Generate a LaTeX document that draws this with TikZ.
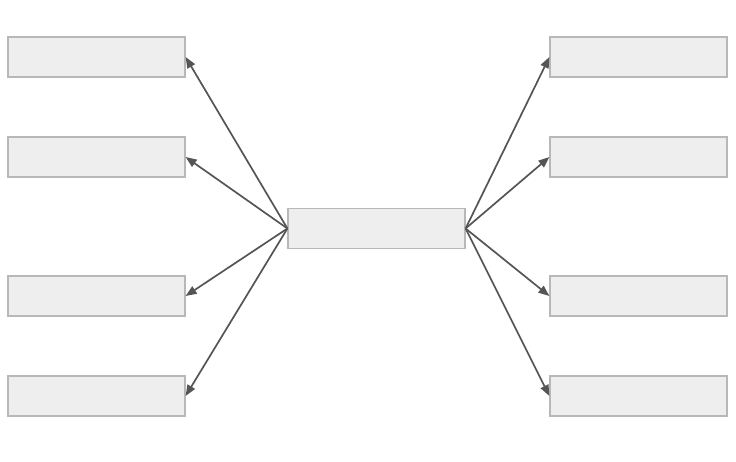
\documentclass[tikz,border=0pt]{standalone}
\usetikzlibrary{arrows.meta}
\definecolor{boxfill}{HTML}{EEEEEE}
\definecolor{boxline}{HTML}{B8B8B8}
\definecolor{arrowc}{HTML}{555555}
\begin{document}
\begin{tikzpicture}[x=1pt,y=-1pt,
  box/.style={draw=boxline,fill=boxfill,line width=1.2pt,minimum width=177pt,minimum height=40pt,inner sep=0pt},
  conn/.style={draw=arrowc,line width=1.7pt,-{Triangle[length=11pt,width=8.5pt]}}]
\useasboundingbox[fill=white] (0,0) rectangle (736,461);
\node[box] (c) at (376.5,228.5) {};
\node[box] (l1) at (96.5,57) {};
\node[box] (l2) at (96.5,157) {};
\node[box] (l3) at (96.5,296) {};
\node[box] (l4) at (96.5,396) {};
\node[box] (r1) at (638.5,57) {};
\node[box] (r2) at (638.5,157) {};
\node[box] (r3) at (638.5,296) {};
\node[box] (r4) at (638.5,396) {};
\foreach \n in {l1,l2,l3,l4}{\draw[conn] (c.west) -- (\n.east);}
\foreach \n in {r1,r2,r3,r4}{\draw[conn] (c.east) -- (\n.west);}
\end{tikzpicture}
\end{document}
